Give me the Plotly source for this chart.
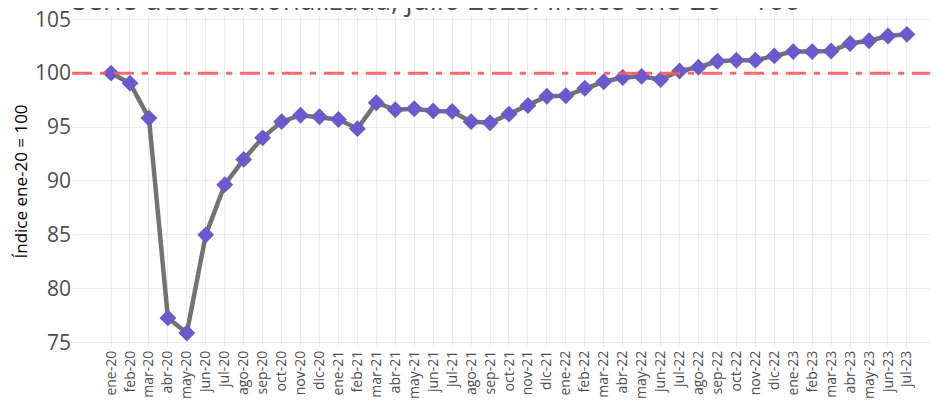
import plotly.graph_objects as go

meses = ["ene-20","feb-20","mar-20","abr-20","may-20","jun-20","jul-20","ago-20","sep-20","oct-20","nov-20","dic-20",
         "ene-21","feb-21","mar-21","abr-21","may-21","jun-21","jul-21","ago-21","sep-21","oct-21","nov-21","dic-21",
         "ene-22","feb-22","mar-22","abr-22","may-22","jun-22","jul-22","ago-22","sep-22","oct-22","nov-22","dic-22",
         "ene-23","feb-23","mar-23","abr-23","may-23","jun-23","jul-23"]
indice = [100.0, 99.07, 95.83, 77.3, 75.9, 85.0, 89.66, 92.0, 94.0, 95.5, 96.1, 95.95,
          95.7, 94.85, 97.26, 96.6, 96.7, 96.5, 96.45, 95.5, 95.4, 96.2, 97.0, 97.85,
          97.9, 98.6, 99.2, 99.6, 99.7, 99.4, 100.2, 100.55, 101.1, 101.2, 101.2, 101.6,
          102.0, 102.0, 102.05, 102.75, 103.0, 103.45, 103.6]
referencia = 100
titulo = "Serie desestacionalizada, julio 2023: Índice ene-20 = 100"
ytitulo = "Índice ene-20 = 100"
yticks = [75, 80, 85, 90, 95, 100, 105]

XR = [-2.06, 43.64]

fig = go.Figure()
fig.add_trace(go.Scatter(
    x=XR, y=[referencia, referencia], mode="lines", xaxis="x2",
    line=dict(color="rgba(255,90,90,0.9)", width=3, dash="20px,8px,6px,8px"),
    showlegend=False, hoverinfo="skip"))
fig.add_trace(go.Scatter(
    x=meses, y=indice, mode="lines+markers",
    line=dict(color="#737373", width=4.5),
    marker=dict(symbol="diamond", size=13, color="#6A5ACD"),
    showlegend=False, hoverinfo="x+y"))

fig.add_annotation(text=titulo, xref="paper", yref="paper", x=-0.002, y=0.988,
                   xanchor="left", yanchor="bottom", showarrow=False,
                   font=dict(size=28, color="#4D4D4D"))
fig.add_annotation(text=ytitulo, xref="paper", yref="paper", x=-0.060, y=0.5,
                   xanchor="center", yanchor="middle", textangle=-90, showarrow=False,
                   font=dict(size=17, color="black"))

fig.update_layout(
    width=930, height=395,
    margin=dict(l=64, r=0, t=8, b=56, autoexpand=False),
    paper_bgcolor="white", plot_bgcolor="white",
    font=dict(family="Open Sans", color="#4D4D4D"),
    xaxis=dict(type="category", range=XR, tickangle=-90, automargin=False,
               tickfont=dict(size=14, color="#4D4D4D"), showgrid=True,
               gridcolor="#EBEBEB", gridwidth=1, zeroline=False, ticks="", showline=False,
               ticklabeloverflow="allow"),
    xaxis2=dict(type="linear", overlaying="x", visible=False, range=XR, showgrid=False),
    yaxis=dict(range=[74.6, 105.3], tickvals=yticks, ticktext=[str(v) for v in yticks],
               automargin=False, ticklabeloverflow="allow",
               tickfont=dict(size=21, color="#4D4D4D"), showgrid=True,
               gridcolor="#EBEBEB", gridwidth=1, zeroline=False, ticks=""),
)

fig.write_html("out.html")
